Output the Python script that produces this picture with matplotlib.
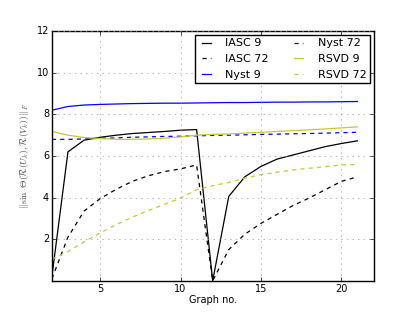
import matplotlib
matplotlib.use("Agg")
import matplotlib.pyplot as plt

plt.style.use("classic")

graph_no = list(range(2, 22))

iasc_9 = [0.2, 6.2, 6.76, 6.9, 7.0, 7.08, 7.13, 7.18, 7.24, 7.27,
          0.0, 4.06, 5.0, 5.5, 5.85, 6.05, 6.25, 6.45, 6.6, 6.73]
iasc_72 = [0.1, 2.1, 3.35, 3.95, 4.4, 4.78, 5.05, 5.25, 5.38, 5.57,
           0.0, 1.5, 2.24, 2.76, 3.19, 3.62, 3.98, 4.38, 4.78, 5.0]
nyst_9 = [8.2, 8.38, 8.45, 8.48, 8.5, 8.52, 8.53, 8.54, 8.54, 8.55,
          8.56, 8.57, 8.57, 8.58, 8.59, 8.59, 8.6, 8.6, 8.61, 8.62]
nyst_72 = [6.8, 6.8, 6.82, 6.85, 6.87, 6.9, 6.92, 6.94, 6.95, 6.97,
           6.99, 7.0, 7.02, 7.04, 7.05, 7.07, 7.08, 7.1, 7.12, 7.14]
rsvd_9 = [7.18, 7.0, 6.89, 6.84, 6.8, 6.8, 6.82, 6.86, 6.92, 7.0,
          7.04, 7.06, 7.1, 7.14, 7.18, 7.22, 7.26, 7.3, 7.35, 7.4]
rsvd_72 = [1.05, 1.4, 1.87, 2.3, 2.7, 3.06, 3.38, 3.67, 3.98, 4.38,
           4.57, 4.73, 4.94, 5.1, 5.22, 5.33, 5.41, 5.49, 5.57, 5.59]

fig = plt.figure(figsize=(4.15, 3.12), dpi=100, facecolor="white")
ax = fig.add_axes([0.125, 0.1, 0.775, 0.8])

yellow = "#c8c832"
dash = (3, 3)
ax.plot(graph_no, iasc_9, "k-", lw=0.9, label="IASC 9")
ax.plot(graph_no, iasc_72, "k--", lw=0.9, dashes=dash, label="IASC 72")
ax.plot(graph_no, nyst_9, "b-", lw=0.9, label="Nyst 9")
ax.plot(graph_no, nyst_72, "b--", lw=0.9, dashes=dash, label="Nyst 72")
ax.plot(graph_no, rsvd_9, "-", color=yellow, lw=0.9, label="RSVD 9")
ax.plot(graph_no, rsvd_72, "--", color=yellow, lw=0.9, dashes=dash, label="RSVD 72")

ax.set_xlim(2, 22)
ax.set_ylim(0, 12)
ax.set_xticks([5, 10, 15, 20])
ax.set_yticks([2, 4, 6, 8, 10, 12])
ax.tick_params(labelsize=7, pad=2, length=3)
ax.grid(True, color="0.6", linestyle=":")
ax.set_xlabel("Graph no.", fontsize=7, labelpad=1)
ax.set_ylabel(r"$||\sin\ \Theta(\mathcal{R}(U_k),\mathcal{R}(V_k))||_F$",
              fontsize=7, color="0.3", labelpad=4)
ax.legend(loc="upper right", ncol=2, fontsize=8, handlelength=1.4,
          handletextpad=1.0, borderaxespad=0.3, columnspacing=2.0,
          labelspacing=0.5, borderpad=0.35)

fig.savefig("out.png", dpi=100, facecolor="white")
